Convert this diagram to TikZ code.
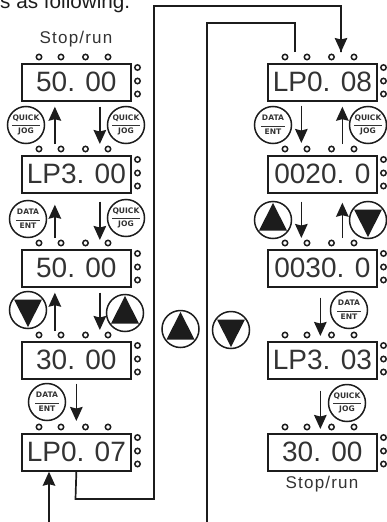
\documentclass[tikz,border=0pt]{standalone}
\usepackage{fontspec}
\setmainfont{Liberation Sans}
\newfontfamily\btnfont{DejaVu Sans}
\usetikzlibrary{arrows.meta}
\definecolor{ink}{HTML}{1C1C1C}
\definecolor{txt}{HTML}{333333}
\tikzset{
  x=1pt,y=-1pt,
  lne/.style={line width=1.7pt,draw=ink},
  arr/.style={lne,-{Stealth[length=14pt,width=12.5pt,inset=1.5pt]}},
  disp/.style={draw=ink,line width=1.7pt,minimum width=109pt,minimum height=37pt,inner sep=0pt,anchor=north west,text=txt,font=\fontsize{28}{28}\selectfont},
  led/.style={circle,draw=ink,line width=1.5pt,inner sep=0pt,minimum size=5.4pt},
  btn/.style={circle,draw=ink,line width=1.5pt,inner sep=0pt,minimum size=37pt,align=center,text=txt,font=\btnfont\bfseries\fontsize{7.6}{8.8}\selectfont},
  cap text/.style={text=txt,inner sep=0pt,font=\fontsize{17}{17}\selectfont\addfontfeature{LetterSpace=7}},
}
\newcommand{\display}[4]{%
  \node[disp] (#1) at (#2,#3) {#4};
  \foreach \dx/\nm in {18/a,40/b,64.5/c,87/d}
    \node[led] (#1\nm) at (#2+\dx,#3-6) {};
  \foreach \dy/\nm in {4.5/e,18/f,31/g}
    \node[led] (#1\nm) at (#2+116.5,#3+\dy) {};
}
\newcommand{\quickbtn}[2]{\node[btn] (#1) at (#2) {QUICK\\[-0.5pt]\rule[2.5pt]{28pt}{0.9pt}\\[-3.4pt]JOG};}
\newcommand{\databtn}[2]{\node[btn] (#1) at (#2) {DATA\\[-0.5pt]\rule[2.5pt]{24pt}{0.9pt}\\[-3.4pt]ENT};}
\newcommand{\upbtn}[2]{\node[btn] (#1) at (#2) {};
  \fill[ink] ([yshift=17pt]#1.center) -- ([shift={(14pt,-10.5pt)}]#1.center) -- ([shift={(-14pt,-10.5pt)}]#1.center) -- cycle;}
\newcommand{\dnbtn}[2]{\node[btn] (#1) at (#2) {};
  \fill[ink] ([yshift=-17pt]#1.center) -- ([shift={(14pt,10.5pt)}]#1.center) -- ([shift={(-14pt,10.5pt)}]#1.center) -- cycle;}
\begin{document}
\begin{tikzpicture}
\useasboundingbox (0,0) rectangle (387,522);
\node[anchor=base west,inner sep=0pt,text=ink,font=\fontsize{20.7}{21}\selectfont] (head) at (0,9) {s as following.};
\node[cap text] (stopL) at (76,39) {Stop/run};
\node[cap text] (stopR) at (322,484) {Stop/run};
% left column
\display{La}{21}{63}{50. 00}
\display{Lb}{21}{155}{LP3. 00}
\display{Lc}{21}{249}{50. 00}
\display{Ld}{21}{341}{30. 00}
\display{Le}{21}{433}{LP0. 07}
% right column
\display{Ra}{267}{63}{LP0. 08}
\display{Rb}{267}{155}{0020. 0}
\display{Rc}{267}{249}{0030. 0}
\display{Rd}{267}{341}{LP3. 03}
\display{Re}{267}{433}{30. 00}
% buttons
\quickbtn{b1}{26,125}
\quickbtn{b2}{126,125}
\databtn{b3}{28,219}
\quickbtn{b4}{126,218}
\dnbtn{b5}{28,310}
\upbtn{b6}{125,313}
\databtn{b7}{47,402}
\upbtn{mU}{180.5,329}
\dnbtn{mD}{231,330}
\databtn{b8}{273,125}
\quickbtn{b9}{368,125}
\upbtn{b10}{273,220}
\dnbtn{b11}{368,220}
\databtn{b12}{349,310}
\quickbtn{b13}{347,403}
% arrows, left
\draw[arr,shorten <=11pt,shorten >=5pt] ([xshift=-21.5pt]Lb.north) -- ([xshift=-21.5pt]La.south);
\draw[arr,shorten <=5pt,shorten >=11pt] ([xshift=23.5pt]La.south) -- ([xshift=23.5pt]Lb.north);
\draw[arr,shorten <=11pt,shorten >=11pt] ([xshift=-21.5pt]Lc.north) -- ([xshift=-21.5pt]Lb.south);
\draw[arr,shorten <=8pt,shorten >=9pt] ([xshift=23.5pt]Lb.south) -- ([xshift=23.5pt]Lc.north);
\draw[arr,shorten <=10pt,shorten >=5pt] ([xshift=-21.5pt]Ld.north) -- ([xshift=-21.5pt]Lc.south);
\draw[arr,shorten <=5pt,shorten >=11pt] ([xshift=23.5pt]Lc.south) -- ([xshift=23.5pt]Ld.north);
\draw[arr,shorten <=4pt,shorten >=12pt] (Ld.south) -- (Le.north);
% arrows, right
\draw[arr,shorten <=4pt,shorten >=12pt] ([xshift=-21pt]Ra.south) -- ([xshift=-21pt]Rb.north);
\draw[arr,shorten <=11pt,shorten >=5pt] ([xshift=20pt]Rb.north) -- ([xshift=20pt]Ra.south);
\draw[arr,shorten <=8pt,shorten >=11pt] ([xshift=-21pt]Rb.south) -- ([xshift=-21pt]Rc.north);
\draw[arr,shorten <=11pt,shorten >=9pt] ([xshift=20pt]Rc.north) -- ([xshift=20pt]Rb.south);
\draw[arr,shorten <=10pt,shorten >=5pt] ([xshift=-2pt]Rc.south) -- ([xshift=-2pt]Rd.north);
\draw[arr,shorten <=11pt,shorten >=4pt] ([xshift=-2pt]Rd.south) -- ([xshift=-2pt]Re.north);
% long connectors
\coordinate (feedIn) at (49,522);
\coordinate (feedOut) at (207,522);
\coordinate (stubTop) at (295,52);
\coordinate (tipTop) at (341,52);
\draw[lne] (Le.south) -- (75.5,499) -- (154,499) -- (154,6) -- (341,6) -- (tipTop);
\draw[arr] (341,20) -- (tipTop);
\draw[lne] (stubTop) -- (295,23) -- (207,23) -- (feedOut);
\draw[arr] (feedIn) -- (feedIn |- Le.south);
\end{tikzpicture}
\end{document}
